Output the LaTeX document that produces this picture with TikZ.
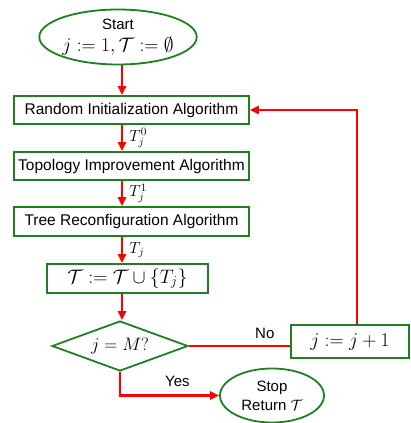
\RequirePackage{fix-cm}
\documentclass[tikz,border=0pt]{standalone}
\usepackage{fontspec}
\setmainfont{Liberation Sans}
\usepackage{amssymb}
\usetikzlibrary{shapes.geometric,arrows.meta}
\definecolor{fgreen}{RGB}{32,128,32}
\tikzset{
  x=1pt,y=-1pt,
  algbox/.style={draw=fgreen,line width=1.8pt,fill=white,inner sep=0pt,font=\fontsize{15.5}{18}\selectfont},
  oval/.style={draw=fgreen,line width=1.8pt,ellipse,inner sep=0pt,align=center},
  dia/.style={draw=fgreen,line width=1.8pt,diamond,aspect=2.7,inner sep=0pt},
  flow/.style={draw=red,line width=2.2pt,-{Triangle[length=9pt,width=8pt]}},
  flowline/.style={draw=red,line width=2.2pt},
  lbl/.style={font=\fontsize{15}{17}\selectfont},
  mlbl/.style={font=\fontsize{16}{18}\selectfont}
}
\begin{document}
\begin{tikzpicture}
\useasboundingbox (0,0) rectangle (410,423);
\coordinate (col) at (122,0);
\node[oval,minimum width=151,minimum height=55,font=\fontsize{15}{22}\selectfont] (start) at (118,37)
  {Start\\[0pt] {\fontsize{19.5}{22}\selectfont $j:=1,\mathcal{T}:=\emptyset$}};
\node[algbox,minimum width=235,minimum height=28] (b1) at (131.5,110) {Random Initialization Algorithm};
\node[algbox,minimum width=235,minimum height=28] (b2) at (131.5,166) {Topology Improvement Algorithm};
\node[algbox,minimum width=235,minimum height=29] (b3) at (131.5,221.5) {Tree Reconfiguration Algorithm};
\node[algbox,minimum width=161,minimum height=29,font=\fontsize{19.5}{22}\selectfont] (b4) at (127.5,278.5) {$\mathcal{T}:=\mathcal{T}\cup\{T_j\}$};
\node[dia,minimum width=136,minimum height=50,font=\fontsize{18}{20}\selectfont] (d) at (120,346) {$j=M?$};
\node[algbox,minimum width=118,minimum height=33,font=\fontsize{19.5}{22}\selectfont] (inc) at (350,341.5) {$j:=j+1$};
\node[oval,minimum width=104,minimum height=54,font=\fontsize{15}{19}\selectfont] (stop) at (272,395.5) {Stop\\ Return $\mathcal{T}$};
\draw[flow] (start.south -| col) -- (b1.north -| col);
\draw[flow] (b1.south -| col) -- node[right,mlbl,xshift=3pt] {$T_j^0$} (b2.north -| col);
\draw[flow] (b2.south -| col) -- node[right,mlbl,xshift=3pt] {$T_j^1$} (b3.north -| col);
\draw[flow] (b3.south -| col) -- node[right,mlbl,xshift=3pt] {$T_j$} (b4.north -| col);
\draw[flow] (b4.south -| col) -- (d.north -| col);
\draw[flowline] (d.east) -- node[above,lbl,pos=0.75,yshift=3pt] {No} (inc.west |- d.east);
\coordinate (up) at (357,110);
\draw[flow] (inc.north -| up) -- (up) -- (b1.east);
\draw[flow] (d.south) |- node[above,lbl,pos=0.79,yshift=4pt] {Yes} (stop.west);
\end{tikzpicture}
\end{document}
